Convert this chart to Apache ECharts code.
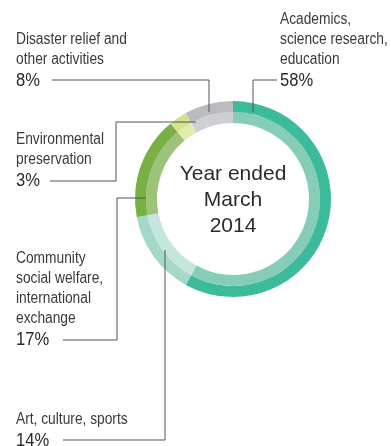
<!DOCTYPE html>
<html>
<head>
<meta charset="utf-8">
<script src="https://cdn.jsdelivr.net/npm/echarts@6/dist/echarts.min.js"></script>
<style>
  html, body { margin: 0; padding: 0; background: #fff; }
  #chart { width: 391px; height: 446px; }
</style>
</head>
<body>
<div id="chart"></div>
<script>
// Share of spending by field, year ended March 2014 (clockwise from 12 o'clock)
const categories = [
  'Academics,\nscience research,\neducation',
  'Art, culture, sports',
  'Community\nsocial welfare,\ninternational\nexchange',
  'Environmental\npreservation',
  'Disaster relief and\nother activities'
];
const values = [58, 14, 17, 3, 8];
const outerColors = ['#3bbb9c', '#a4d9ca', '#78b043', '#d3e38b', '#b9bbbe'];
const innerColors = ['#86cdb8', '#c4e6dc', '#9dc37b', '#e2ecab', '#cdcfd2'];
const centerTitle = 'Year ended\nMarch\n2014';

// Label placement: text block origin, and leader line path (ending on the ring)
const labelLayout = [
  { x: 280, y: 20, line: [[277, 80], [253, 80], [253, 112]] },
  { x: 16, y: 420, line: [[63, 440], [165, 440], [165, 250]] },
  { x: 16, y: 259, line: [[63, 340], [117, 340], [117, 198], [146, 198]] },
  { x: 16, y: 140, line: [[50, 181], [116, 181], [116, 122], [196, 122]] },
  { x: 16, y: 40, line: [[52, 80], [209, 80], [209, 112]] }
];

const FONT = '"Liberation Sans", Arial, sans-serif';
const center = [233, 199];
const lineGap = 20;
// narrow the sans face to get a condensed look
const condense = 0.86;

const chart = echarts.init(document.getElementById('chart'), null, { renderer: 'canvas' });

function ringSeries(radius, colors) {
  return {
    type: 'pie',
    center: center,
    radius: radius,
    startAngle: 90,
    clockwise: true,
    silent: true,
    animation: false,
    label: { show: false },
    labelLine: { show: false },
    emphasis: { disabled: true },
    data: values.map((v, i) => ({
      name: categories[i],
      value: v,
      itemStyle: { color: colors[i], borderWidth: 0 }
    }))
  };
}

const graphics = [];
categories.forEach((name, i) => {
  const lay = labelLayout[i];
  const lines = name.split('\n');
  lines.forEach((t, k) => {
    graphics.push({
      type: 'text',
      x: lay.x, y: lay.y + k * lineGap,
      scaleX: condense,
      silent: true,
      style: {
        text: t, fill: '#3a3a3a', font: '16px ' + FONT,
        textAlign: 'left', textVerticalAlign: 'middle'
      }
    });
  });
  graphics.push({
    type: 'text',
    x: lay.x, y: lay.y + lines.length * lineGap + 1,
    scaleX: 0.92,
    silent: true,
    style: {
      text: values[i] + '%', fill: '#2a2a2a', font: '18px ' + FONT,
      textAlign: 'left', textVerticalAlign: 'middle'
    }
  });
  graphics.push({
    type: 'polyline',
    silent: true,
    z: 10,
    shape: { points: lay.line },
    style: { stroke: '#555', lineWidth: 1, fill: null }
  });
});

graphics.push({
  type: 'text',
  x: center[0], y: center[1] + 1,
  silent: true,
  style: {
    text: centerTitle, fill: '#2b2b2b', font: '21px ' + FONT,
    lineHeight: 26, textAlign: 'center', textVerticalAlign: 'middle'
  }
});

chart.setOption({
  animation: false,
  backgroundColor: '#ffffff',
  series: [
    ringSeries([76, 87], innerColors),
    ringSeries([87, 98], outerColors)
  ],
  graphic: { elements: graphics }
});
</script>
</body>
</html>
